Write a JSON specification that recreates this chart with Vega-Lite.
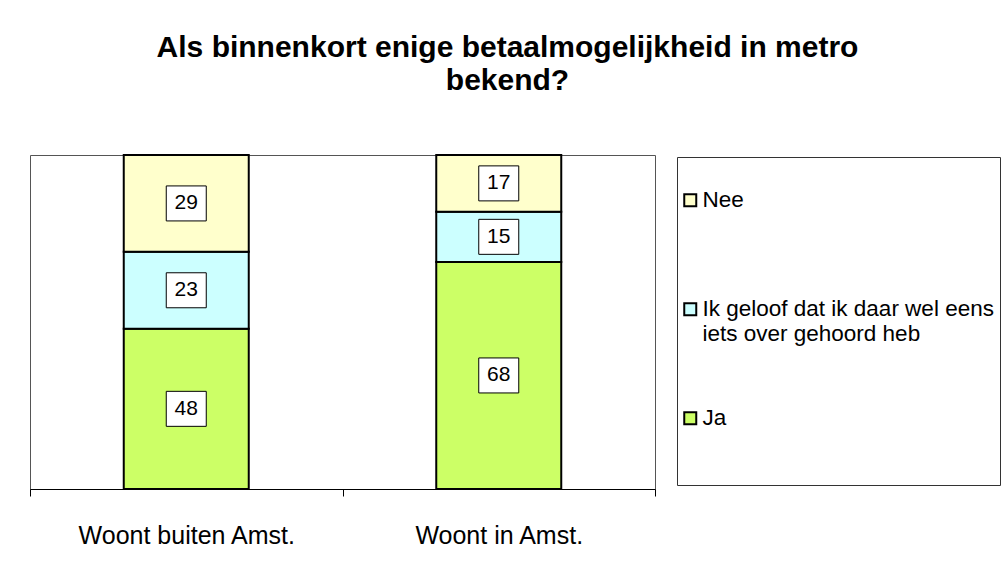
{
  "$schema": "https://vega.github.io/schema/vega-lite/v6.json",
  "autosize": {"type": "none"},
  "padding": {"left": 30, "top": 155, "right": 349, "bottom": 78},
  "width": 625,
  "height": 334,
  "background": "white",
  "title": {
    "text": ["Als binnenkort enige betaalmogelijkheid in metro", "bekend?"],
    "font": "Liberation Sans",
    "fontSize": 30,
    "fontWeight": "bold",
    "color": "black",
    "anchor": "middle",
    "frame": "group",
    "dx": 165,
    "offset": 58,
    "lineHeight": 33
  },
  "data": {
    "values": [
      {"group": "Woont buiten Amst.", "answer": "Ja", "value": 48, "order": 1},
      {"group": "Woont buiten Amst.", "answer": "Ik geloof dat ik daar wel eens iets over gehoord heb", "value": 23, "order": 2},
      {"group": "Woont buiten Amst.", "answer": "Nee", "value": 29, "order": 3},
      {"group": "Woont in Amst.", "answer": "Ja", "value": 68, "order": 1},
      {"group": "Woont in Amst.", "answer": "Ik geloof dat ik daar wel eens iets over gehoord heb", "value": 15, "order": 2},
      {"group": "Woont in Amst.", "answer": "Nee", "value": 17, "order": 3}
    ]
  },
  "encoding": {
    "x": {
      "field": "group",
      "type": "nominal",
      "sort": null,
      "scale": {"paddingInner": 0, "paddingOuter": 0},
      "axis": {
        "title": null,
        "labelAngle": 0,
        "labelFont": "Liberation Sans",
        "labelFontSize": 25,
        "labelColor": "black",
        "labelLimit": 400,
        "labelPadding": 27,
        "domainColor": "black",
        "domainWidth": 1,
        "tickColor": "black",
        "tickBand": "extent",
        "tickSize": 7,
        "grid": false
      }
    }
  },
  "layer": [
    {
      "mark": {"type": "bar", "stroke": "black", "strokeWidth": 2, "width": {"band": 0.4}},
      "encoding": {
        "y": {
          "field": "value",
          "type": "quantitative",
          "stack": "zero",
          "scale": {"domain": [0, 100], "nice": false},
          "axis": null
        },
        "order": {"field": "order", "type": "quantitative"},
        "color": {
          "field": "answer",
          "type": "nominal",
          "scale": {
            "domain": ["Nee", "Ik geloof dat ik daar wel eens iets over gehoord heb", "Ja"],
            "range": ["#FFFFCC", "#CCFFFF", "#CCFF66"]
          },
          "legend": {
            "title": " ",
            "titleFontSize": 8,
            "titlePadding": 18,
            "orient": "none",
            "legendX": 647,
            "legendY": 2,
            "direction": "vertical",
            "strokeColor": "#333",
            "fillColor": "white",
            "padding": 6,
            "symbolType": "square",
            "symbolSize": 144,
            "symbolOffset": -4,
            "symbolStrokeColor": "black",
            "symbolStrokeWidth": 2,
            "symbolOpacity": 1,
            "labelFont": "Liberation Sans",
            "labelFontSize": 22.5,
            "labelLineHeight": 23,
            "labelColor": "black",
            "labelLimit": 400,
            "labelOffset": 1,
            "rowPadding": 61,
            "labelExpr": "datum.label == 'Ik geloof dat ik daar wel eens iets over gehoord heb' ? ['Ik geloof dat ik daar wel eens', 'iets over gehoord heb'] : datum.label == 'Ja' ? ['Ja', ' ', ' '] : [datum.label, ' ']"
          }
        }
      }
    },
    {
      "transform": [
        {"stack": "value", "groupby": ["group"], "sort": [{"field": "order", "order": "ascending"}], "as": ["v0", "v1"]},
        {"calculate": "(datum.v0 + datum.v1) / 2", "as": "mid"}
      ],
      "layer": [
        {
          "mark": {
            "type": "point",
            "shape": "M -1 -0.875 H 1 V 0.875 H -1 Z",
            "filled": true,
            "fill": "white",
            "stroke": "black",
            "strokeWidth": 1,
            "opacity": 1,
            "size": 1600
          },
          "encoding": {
            "y": {"field": "mid", "type": "quantitative"}
          }
        },
        {
          "mark": {"type": "text", "font": "Liberation Sans", "fontSize": 21, "color": "black", "baseline": "middle", "align": "center"},
          "encoding": {
            "y": {"field": "mid", "type": "quantitative"},
            "text": {"field": "value", "type": "quantitative"}
          }
        }
      ]
    }
  ],
  "config": {
    "view": {"stroke": "#555", "strokeWidth": 1}
  }
}
